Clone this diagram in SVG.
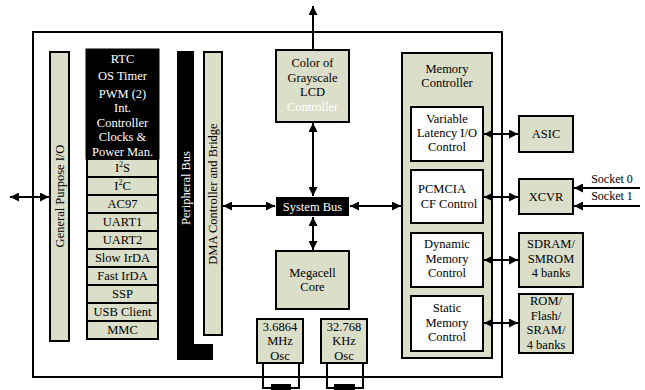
<svg xmlns="http://www.w3.org/2000/svg" width="645" height="390" viewBox="0 0 645 390" font-family="'Liberation Serif', 'Times New Roman', 'DejaVu Serif', serif">
<style>
.b{fill:#dbdec9;stroke:#000;stroke-width:2}
.w{fill:#fff;stroke:#000;stroke-width:2}
.k{fill:#000;stroke:#000;stroke-width:1}
text{font-family:'Liberation Serif','Times New Roman','DejaVu Serif',serif;font-size:12.5px}
.t{fill:#000;text-anchor:middle}
.tw{fill:#fff;text-anchor:middle}
.c{stroke:#000;stroke-width:2;fill:none}
</style>
<defs>
<marker id="ah" viewBox="0 0 10 10" refX="10" refY="5" markerWidth="11" markerHeight="9" markerUnits="userSpaceOnUse" orient="auto-start-reverse">
<path d="M0,0 L10,5 L0,10 z" fill="#000"/>
</marker>
</defs>
<rect x="33" y="32" width="469" height="345" fill="none" stroke="#000" stroke-width="2"/>
<g id="gpio">
<rect class="b" x="50" y="52" width="19" height="289"/>
<text class="t" transform="translate(64,196) rotate(-90)">General Purpose I/O</text>
</g>
<g id="periph-block">
<rect class="k" x="86" y="49" width="73" height="110"/>
<text class="tw" x="122.5" y="63">RTC</text>
<text class="tw" x="122.5" y="80">OS Timer</text>
<text class="tw" x="122.5" y="98">PWM (2)</text>
<text class="tw" x="122.5" y="112">Int.</text>
<text class="tw" x="122.5" y="126.5">Controller</text>
<text class="tw" x="122.5" y="141">Clocks &amp;</text>
<text class="tw" x="122.5" y="155.5">Power Man.</text>
<rect class="b" x="87" y="159" width="71" height="18"/>
<text class="t" x="122.5" y="172">I<tspan font-size="8" dy="-5">2</tspan><tspan dy="5">S</tspan></text>
<rect class="b" x="87" y="177" width="71" height="18"/>
<text class="t" x="122.5" y="190">I<tspan font-size="8" dy="-5">2</tspan><tspan dy="5">C</tspan></text>
<rect class="b" x="87" y="195" width="71" height="18"/>
<text class="t" x="122.5" y="208">AC97</text>
<rect class="b" x="87" y="213" width="71" height="18"/>
<text class="t" x="122.5" y="226">UART1</text>
<rect class="b" x="87" y="231" width="71" height="18"/>
<text class="t" x="122.5" y="244">UART2</text>
<rect class="b" x="87" y="249" width="71" height="18"/>
<text class="t" x="122.5" y="262">Slow IrDA</text>
<rect class="b" x="87" y="267" width="71" height="18"/>
<text class="t" x="122.5" y="280">Fast IrDA</text>
<rect class="b" x="87" y="285" width="71" height="18"/>
<text class="t" x="122.5" y="298">SSP</text>
<rect class="b" x="87" y="303" width="71" height="18"/>
<text class="t" x="122.5" y="316">USB Client</text>
<rect class="b" x="87" y="321" width="71" height="18"/>
<text class="t" x="122.5" y="334">MMC</text>
</g>
<g id="peripheral-bus">
<path d="M177,51 H194 V344 H213 V360 H177 Z" fill="#000"/>
<text class="tw" transform="translate(190,188) rotate(-90)">Peripheral Bus</text>
</g>
<g id="dma">
<rect class="b" x="204" y="52" width="18" height="283"/>
<text class="t" transform="translate(217,194) rotate(-90)">DMA Controller and Bridge</text>
</g>
<g id="lcd">
<rect class="b" x="276" y="50" width="73" height="72"/>
<text class="t" x="312.5" y="67">Color of</text>
<text class="t" x="312.5" y="82">Grayscale</text>
<text class="t" x="312.5" y="96">LCD</text>
<text class="tw" x="312.5" y="111">Controller</text>
</g>
<g id="system-bus">
<rect x="276" y="197" width="73" height="19" fill="#000"/>
<text class="tw" x="312.5" y="211">System Bus</text>
</g>
<g id="megacell">
<rect class="b" x="276" y="251" width="73" height="58"/>
<text class="t" x="312.5" y="277">Megacell</text>
<text class="t" x="312.5" y="291">Core</text>
</g>
<g id="osc1">
<rect class="b" x="257" y="319" width="46" height="44"/>
<text class="t" x="280" y="331">3.6864</text>
<text class="t" x="280" y="345">MHz</text>
<text class="t" x="280" y="360">Osc</text>
<path class="c" d="M263,363 V388 H299 V363"/>
<rect x="271" y="384" width="20" height="6" fill="#000"/>
</g>
<g id="osc2">
<rect class="b" x="321" y="319" width="46" height="44"/>
<text class="t" x="344" y="331">32.768</text>
<text class="t" x="344" y="345">KHz</text>
<text class="t" x="344" y="360">Osc</text>
<path class="c" d="M327,363 V388 H363 V363"/>
<rect x="334" y="384" width="21" height="6" fill="#000"/>
</g>
<g id="memory-controller">
<rect class="b" x="402" y="53" width="90" height="305"/>
<text class="t" x="447" y="73">Memory</text>
<text class="t" x="447" y="87">Controller</text>
<rect class="w" x="411" y="107" width="72" height="54"/>
<text class="t" x="447" y="123">Variable</text>
<text class="t" x="447" y="137">Latency I/O</text>
<text class="t" x="447" y="151">Control</text>
<rect class="w" x="411" y="170" width="72" height="53"/>
<text class="t" x="442" y="193">PCMCIA</text>
<text class="t" x="449" y="208">CF Control</text>
<rect class="w" x="411" y="233" width="72" height="54"/>
<text class="t" x="447" y="248">Dynamic</text>
<text class="t" x="447" y="263">Memory</text>
<text class="t" x="447" y="277">Control</text>
<rect class="w" x="411" y="296" width="72" height="55"/>
<text class="t" x="447" y="312">Static</text>
<text class="t" x="447" y="327">Memory</text>
<text class="t" x="447" y="341">Control</text>
</g>
<g id="asic">
<rect class="b" x="519" y="116" width="54" height="36"/>
<text class="t" x="546" y="138">ASIC</text>
</g>
<g id="xcvr">
<rect class="b" x="519" y="179" width="54" height="35"/>
<text class="t" x="546" y="201">XCVR</text>
<text class="t" x="612" y="183" style="font-size:12px">Socket 0</text>
<text class="t" x="612" y="200" style="font-size:12px">Socket 1</text>
</g>
<g id="sdram">
<rect class="b" x="519" y="233" width="64" height="54"/>
<text class="t" x="551" y="248">SDRAM/</text>
<text class="t" x="551" y="263">SMROM</text>
<text class="t" x="551" y="277">4 banks</text>
</g>
<g id="rom">
<rect class="b" x="519" y="294" width="54" height="59"/>
<text class="t" x="546" y="305">ROM/</text>
<text class="t" x="546" y="319.5">Flash/</text>
<text class="t" x="546" y="334">SRAM/</text>
<text class="t" x="546" y="348.5">4 banks</text>
</g>
<g id="connectors" class="c">
<line x1="10" y1="197" x2="49" y2="197" marker-start="url(#ah)" marker-end="url(#ah)"/>
<line x1="223" y1="206" x2="275" y2="206" marker-start="url(#ah)" marker-end="url(#ah)"/>
<line x1="350" y1="206" x2="401" y2="206" marker-start="url(#ah)" marker-end="url(#ah)"/>
<line x1="313" y1="49" x2="313" y2="6" marker-end="url(#ah)"/>
<line x1="313" y1="123" x2="313" y2="196" marker-start="url(#ah)" marker-end="url(#ah)"/>
<line x1="313" y1="217" x2="313" y2="250" marker-start="url(#ah)" marker-end="url(#ah)"/>
<line x1="484" y1="134" x2="518" y2="134" marker-start="url(#ah)" marker-end="url(#ah)"/>
<line x1="484" y1="197" x2="518" y2="197" marker-start="url(#ah)" marker-end="url(#ah)"/>
<line x1="484" y1="260" x2="518" y2="260" marker-start="url(#ah)" marker-end="url(#ah)"/>
<line x1="484" y1="323" x2="518" y2="323" marker-start="url(#ah)" marker-end="url(#ah)"/>
<line x1="640" y1="188" x2="574" y2="188" marker-end="url(#ah)"/>
<line x1="640" y1="206" x2="574" y2="206" marker-end="url(#ah)"/>
</g>
</svg>
